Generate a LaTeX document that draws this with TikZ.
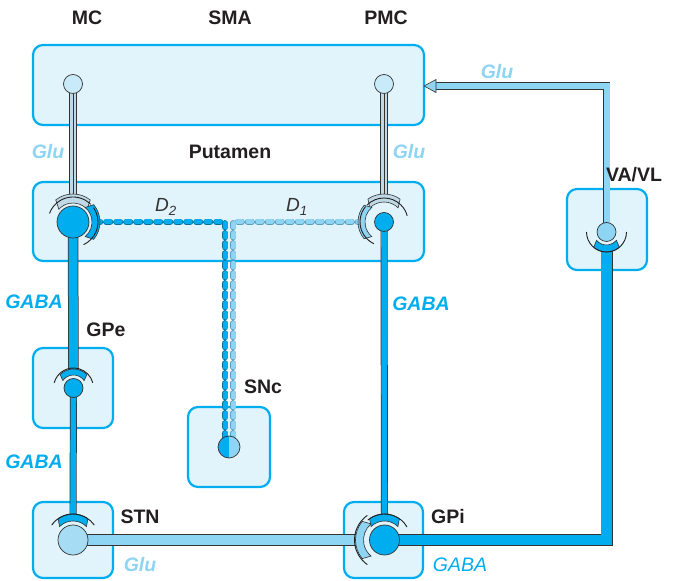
\documentclass[tikz,border=0pt]{standalone}
\usepackage{fontspec}
\setmainfont{Liberation Sans}
\usetikzlibrary{calc}
\definecolor{cyanb}{HTML}{00AEEF}
\definecolor{boxfill}{HTML}{E1F3FB}
\definecolor{lightb}{HTML}{8ED4F3}
\definecolor{paleb}{HTML}{C9EAF8}
\definecolor{stnb}{HTML}{A6DDF5}
\definecolor{greyb}{HTML}{BFD9E6}
\definecolor{dk}{HTML}{333333}
\definecolor{txt}{HTML}{231F20}
\definecolor{beaddk}{HTML}{0B6F9C}
\definecolor{beadlt}{HTML}{5B9CBA}
\pgfdeclarelayer{bg}\pgfdeclarelayer{ax}
\pgfsetlayers{bg,ax,main}
\newcommand{\capat}[6]{%
  \filldraw[fill=#6, draw=dk, line width=0.6pt]
   ($(#1)+(#4-#5:#2)$) arc[start angle={#4-#5}, end angle={#4+#5}, radius=#2]
   -- ($(#1)+(#4+#5-10:#3)$) arc[start angle={#4+#5-10}, end angle={#4-#5+10}, radius=#3] -- cycle;}
\newcommand{\parc}[4]{\draw[txt, line width=0.9pt] ($(#1)+(#3:#2)$) arc[start angle=#3, end angle=#4, radius=#2];}
\begin{document}
\begin{tikzpicture}[x=1pt,y=1pt,
 region/.style={draw=cyanb, line width=2.2pt, fill=boxfill, rounded corners=10pt, inner sep=0pt, outer sep=0pt, anchor=south west},
 cell/.style={circle, draw=dk, line width=0.7pt, inner sep=0pt, minimum size=#1},
 lab/.style={font=\fontsize{19.5}{21}\selectfont\bfseries, text=txt},
 glu/.style={font=\fontsize{19.5}{21}\selectfont\bfseries\itshape, text=lightb},
 gaba/.style={font=\fontsize{19.5}{21}\selectfont\bfseries\itshape, text=cyanb},
 gabar/.style={font=\fontsize{19.5}{21}\selectfont\itshape, text=cyanb},
 dlab/.style={font=\fontsize{19}{21}\selectfont\itshape, text=dk},
 tube/.style n args={3}{preaction={draw=dk, line width=#1}, draw=#3, line width=#2},
 ctx/.style={preaction={draw=dk, line width=7.5pt}, draw=greyb, line width=6pt, postaction={draw=dk, line width=0.8pt}},
 bead/.style n args={2}{preaction={draw=#1, line width=6.6pt, dash pattern=on 3.6pt off 6.4pt, line cap=round}, draw=#2, line width=5pt, dash pattern=on 3.6pt off 6.4pt, line cap=round},
]
\useasboundingbox (0,0) rectangle (676,580);
\begin{pgfonlayer}{bg}
\node[region, minimum width=391pt, minimum height=80pt] (cortex) at (33,455) {};
\node[region, minimum width=391pt, minimum height=79pt] (putamen) at (33,319) {};
\node[region, minimum width=80pt, minimum height=80pt] (gpebox) at (33,152) {};
\node[region, minimum width=82pt, minimum height=80pt] (sncbox) at (188,93) {};
\node[region, minimum width=80pt, minimum height=76pt] (stnbox) at (33,2) {};
\node[region, minimum width=79pt, minimum height=76pt] (gpibox) at (344,2) {};
\node[region, minimum width=80pt, minimum height=81pt] (vabox) at (567,310) {};
\end{pgfonlayer}
% cells
\node[cell=19pt, fill=paleb] (MCn) at (73,496) {};
\node[cell=19pt, fill=paleb] (PMCn) at (384,496) {};
\node[cell=32pt, fill=cyanb] (D2n) at (73,358) {};
\node[cell=19pt, fill=cyanb] (D1n) at (384,358) {};
\node[cell=19pt, fill=cyanb] (GPen) at (73.5,192) {};
\node[cell=22pt, fill=lightb, path picture={\fill[cyanb] (path picture bounding box.south west) rectangle (path picture bounding box.north);}] (SNcn) at (229,133) {};
\node[cell=30pt, fill=stnb] (STNn) at (73,40) {};
\node[cell=30pt, fill=cyanb] (GPin) at (384.5,40) {};
\node[cell=19pt, fill=lightb] (VAn) at (606.5,348) {};
% synapse points
\coordinate (D2top) at ($(D2n.center)+(0,23)$);
\coordinate (D1top) at ($(D1n.center)+(0,24)$);
\coordinate (D2right) at ($(D2n.center)+(27,0)$);
\coordinate (D1left) at ($(D1n.center)+(-26,0)$);
\coordinate (GPetop) at ($(GPen.center)+(0,16)$);
\coordinate (STNtop) at ($(STNn.center)+(0,23)$);
\coordinate (GPitop) at ($(GPin.center)+(0,23)$);
\coordinate (GPileft) at ($(GPin.center)+(-26,0)$);
\coordinate (VAbot) at ($(VAn.center)+(0,-16)$);
\coordinate (arrbase) at ($(cortex.east)+(12,-1)$);
\coordinate (arrtip) at ($(cortex.east)+(0,-1)$);
\begin{pgfonlayer}{ax}
\draw[ctx] (MCn.center) -- (D2top);
\draw[ctx] (PMCn.center) -- (D1top);
\draw[bead={beaddk}{cyanb}] ($(SNcn.center)+(-4,0)$) |- (D2right);
\draw[bead={beadlt}{lightb}] ($(SNcn.center)+(4,0)$) |- (D1left);
\draw[tube={10.5pt}{9pt}{cyanb}] (D2n.center) -- (GPetop);
\draw[tube={7pt}{5.6pt}{cyanb}] (D1n.center) -- (GPitop);
\draw[tube={7pt}{5.6pt}{cyanb}] (GPen.center) -- (STNtop);
\draw[tube={12pt}{10.4pt}{lightb}] (STNn.center) -- (GPileft);
\draw[tube={12pt}{10.4pt}{cyanb}] (GPin.center) -| (VAbot);
\draw[tube={7.4pt}{6pt}{lightb}] (VAn.center) |- (arrbase);
\end{pgfonlayer}
\filldraw[fill=lightb, draw=dk, line width=0.6pt] (arrtip) -- ($(arrbase)+(0,6.5)$) -- ($(arrbase)+(0,-6.5)$) -- cycle;
% caps
\capat{D2n.center}{19}{28}{90}{48}{greyb}
\capat{D2n.center}{19}{27}{0}{50}{cyanb}
\capat{D1n.center}{20}{28}{90}{45}{greyb}
\capat{D1n.center}{19}{26}{180}{50}{lightb}
\capat{GPen.center}{13}{19}{90}{55}{cyanb}
\capat{STNn.center}{19}{26}{90}{45}{cyanb}
\capat{GPin.center}{19}{26}{90}{45}{cyanb}
\capat{GPin.center}{21}{29}{180}{50}{lightb}
\capat{VAn.center}{13}{20}{270}{50}{cyanb}
% receptor arcs
\parc{D2n.center}{25}{160}{45}
\parc{D2n.center}{25}{35}{-65}
\parc{D1n.center}{24}{135}{15}
\parc{D1n.center}{24}{140}{245}
\parc{GPen.center}{20}{165}{15}
\parc{STNn.center}{26}{145}{35}
\parc{GPin.center}{26}{130}{30}
\parc{GPin.center}{30}{125}{235}
\parc{VAn.center}{20}{180}{360}
% labels
\node[lab] (lmc) at (87,562) {MC};
\node[lab] (lsma) at (230,562) {SMA};
\node[lab] (lpmc) at (386,562) {PMC};
\node[glu] (lglu1) at (497,508) {Glu};
\node[glu] (lglu2) at (48,428) {Glu};
\node[lab] (lput) at (230,428) {Putamen};
\node[glu] (lglu3) at (409,428) {Glu};
\node[dlab] (ld2) at (166,373) {D\textsubscript{2}};
\node[dlab] (ld1) at (297,373) {D\textsubscript{1}};
\node[gaba] (lgaba1) at (34,278) {GABA};
\node[lab] (lgpe) at (106,250) {GPe};
\node[gaba] (lgaba2) at (421,276) {GABA};
\node[lab] (lva) at (634,405) {VA/VL};
\node[lab] (lsnc) at (263,193) {SNc};
\node[gaba] (lgaba3) at (34,118) {GABA};
\node[lab] (lstn) at (140,63) {STN};
\node[lab] (lgpi) at (448,63) {GPi};
\node[glu] (lglu4) at (140,15) {Glu};
\node[gabar] (lgaba4) at (460,15) {GABA};
\end{tikzpicture}
\end{document}
